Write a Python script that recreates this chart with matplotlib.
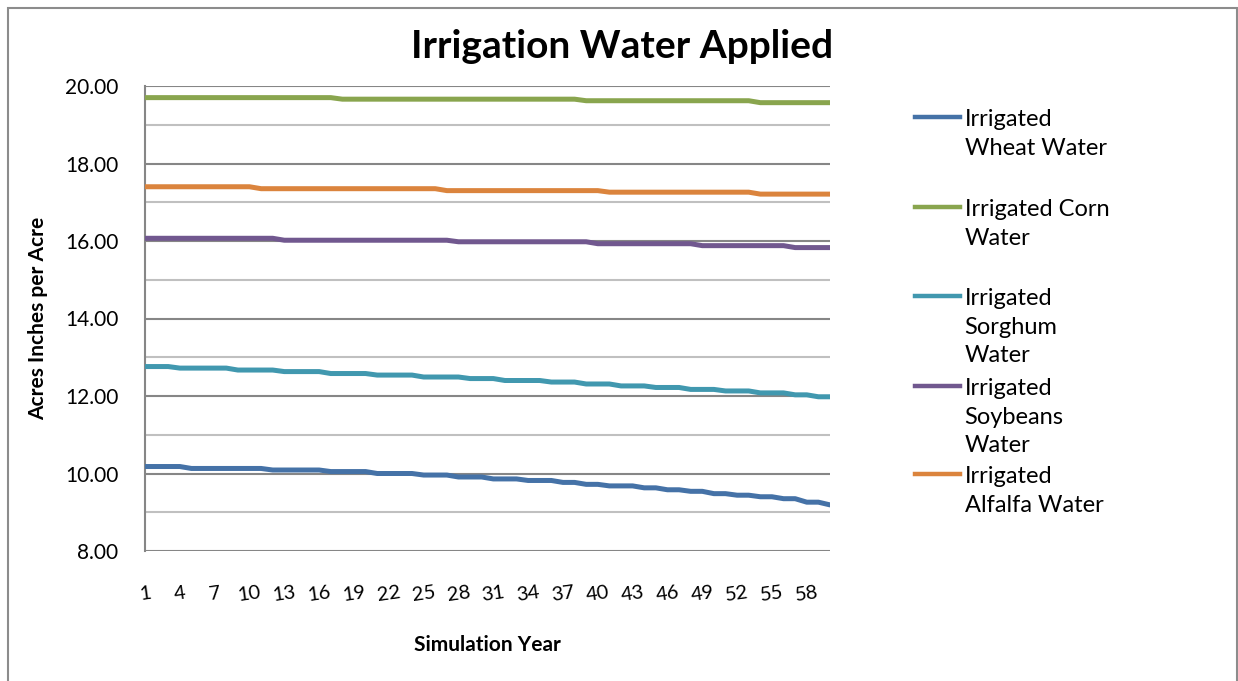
import numpy as np
import matplotlib
matplotlib.use("Agg")
import matplotlib.pyplot as plt
from matplotlib.lines import Line2D
from matplotlib.patches import Rectangle

# Simulation years 1..60
years = list(range(1, 61))

# values (acre inches per acre)
wheat = ([10.18] * 4 + [10.13] * 7 + [10.09] * 5 + [10.05] * 4 + [10.00] * 4 +
         [9.96] * 3 + [9.91] * 3 + [9.86] * 3 + [9.82] * 3 + [9.77] * 2 +
         [9.72] * 2 + [9.68] * 3 + [9.63] * 2 + [9.58] * 2 + [9.54] * 2 +
         [9.48] * 2 + [9.44] * 2 + [9.40] * 2 + [9.35] * 2 + [9.26] * 2 + [9.19])
corn = [19.70] * 17 + [19.66] * 21 + [19.62] * 15 + [19.57] * 7
sorghum = ([12.76] * 3 + [12.72] * 5 + [12.67] * 4 + [12.63] * 4 + [12.58] * 4 +
           [12.54] * 4 + [12.49] * 4 + [12.45] * 3 + [12.40] * 4 + [12.36] * 3 +
           [12.31] * 3 + [12.26] * 3 + [12.22] * 3 + [12.17] * 3 + [12.13] * 3 +
           [12.08] * 3 + [12.03] * 2 + [11.98] * 2)
soybeans = [16.07] * 12 + [16.02] * 15 + [15.98] * 12 + [15.93] * 9 + [15.88] * 8 + [15.83] * 4
alfalfa = [17.40] * 10 + [17.35] * 16 + [17.30] * 14 + [17.26] * 13 + [17.21] * 7

series_names = ["Irrigated\nWheat Water", "Irrigated Corn\nWater",
                "Irrigated\nSorghum\nWater", "Irrigated\nSoybeans\nWater",
                "Irrigated\nAlfalfa Water"]
series_values = [wheat, corn, sorghum, soybeans, alfalfa]
colors = ["#4572A7", "#89A54E", "#4198AF", "#71588F", "#DB843D"]

x_ticks = list(range(1, 59, 3))
y_major = [8, 10, 12, 14, 16, 18, 20]
y_minor = [9, 11, 13, 15, 17, 19]

plt.rcParams['font.family'] = ['Lato', 'DejaVu Sans']

W, H = 1238, 681
fig = plt.figure(figsize=(W / 100, H / 100), dpi=100)

# outer chart border
fig.patches.append(Rectangle((8 / W, -0.05), (1237 - 8) / W, 1.05 - 8 / H,
                             transform=fig.transFigure, fill=False,
                             edgecolor="#8c8c8c", linewidth=1.5))

ax = fig.add_axes([145 / W, 1 - 551 / H, (830 - 145) / W, (551 - 86) / H])

for name, vals, c in zip(series_names, series_values, colors):
    ax.plot(years, vals, color=c, linewidth=3.6, solid_capstyle="round",
            solid_joinstyle="round", label=name, zorder=3)

ax.set_xlim(1, 60)
ax.set_ylim(8, 20)
ax.set_yticks(y_major)
ax.set_yticklabels([f"{v:.2f}" for v in y_major])
ax.set_yticks(y_minor, minor=True)
ax.set_xticks(x_ticks)
ax.set_xticklabels([str(t) for t in x_ticks], rotation=8)

ax.grid(axis="y", which="major", color="#868686", linewidth=1.5, zorder=1)
ax.grid(axis="y", which="minor", color="#c0c0c0", linewidth=1.5, zorder=1)
ax.set_axisbelow(True)

for s in ["top", "right", "bottom"]:
    ax.spines[s].set_visible(False)
ax.spines["left"].set_color("#868686")
ax.spines["left"].set_linewidth(1.5)

ax.tick_params(axis="y", which="both", length=0, pad=19, labelsize=15)
ax.tick_params(axis="x", length=0, pad=24, labelsize=14.5)

ax.set_xlabel("Simulation Year", fontsize=15, fontweight="bold")
ax.xaxis.set_label_coords(0.5, -(645 - 551) / (551 - 86), transform=ax.transAxes)
ax.xaxis.label.set_va("center")
ax.set_ylabel("Acres Inches per Acre", fontsize=15, fontweight="bold")
ax.yaxis.set_label_coords(-(145 - 38) / (830 - 145), 0.5, transform=ax.transAxes)
ax.yaxis.label.set_va("center")

fig.text(622 / W, 1 - 47 / H, "Irrigation Water Applied", fontsize=28,
         fontweight="bold", ha="center", va="center")

# legend entries, one per series, stacked down the right side
legend_tops = [118, 208, 297, 387, 475]
for ln, top in zip(ax.get_lines(), legend_tops):
    h = Line2D([], [], color=ln.get_color(), linewidth=3.2)
    leg = fig.legend([h], [ln.get_label()], loc="upper left",
                     bbox_to_anchor=(915 / W, 1 - (top - 9) / H),
                     frameon=False, fontsize=17, handlelength=1.9,
                     handletextpad=0.2, borderpad=0, borderaxespad=0)
    for t in leg.get_texts():
        t.set_linespacing(1.45)
    # put the key next to the first line of a wrapped label
    try:
        for col in leg._legend_handle_box.get_children():
            for row in col.get_children():
                row.align = "top"
    except AttributeError:
        pass

fig.savefig("out.png", dpi=100)
